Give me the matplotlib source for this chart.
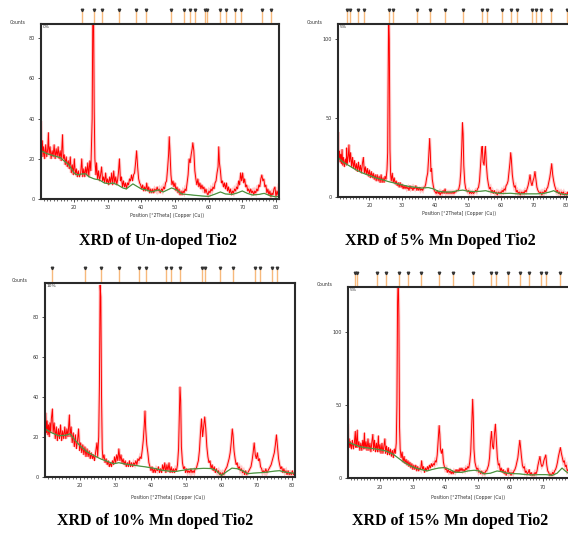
import matplotlib
matplotlib.use("Agg")
import matplotlib.pyplot as plt
from matplotlib.ticker import MultipleLocator

W, H, DPI = 568, 533, 100

# ---------------- data ----------------
captions = ["XRD of Un-doped Tio2", "XRD of 5% Mn Doped Tio2",
            "XRD of 10% Mn doped Tio2", "XRD of 15% Mn doped Tio2"]
corner_labels = ["0%", "5%", "10%", "5%"]
x_ticks = [20, 30, 40, 50, 60, 70, 80]
x_ticks_p4 = [20, 30, 40, 50, 60, 70]
y_ticks_p1 = [0, 20, 40, 60, 80]
y_ticks_p2 = [0, 50, 100]
y_ticks_p3 = [0, 20, 40, 60, 80]
y_ticks_p4 = [0, 50, 100]

undoped_trace = [
    (10.2, 38), (10.4, 24), (10.6, 29), (10.8, 21), (11.0, 26), (11.3, 20), (11.6, 27), (11.9, 21),
    (12.2, 25), (12.4, 33), (12.6, 22), (12.9, 26), (13.2, 20), (13.5, 24), (13.8, 21), (14.1, 27),
    (14.4, 20), (14.7, 25), (15.0, 21), (15.3, 26), (15.6, 20), (15.9, 24), (16.2, 19), (16.6, 32),
    (16.8, 20), (17.1, 22), (17.4, 17), (17.7, 21), (18.0, 16), (18.3, 19), (18.6, 15), (18.9, 21),
    (19.2, 13), (19.5, 17), (19.8, 12), (20.1, 20), (20.4, 12), (20.7, 15), (21.0, 11), (21.3, 14),
    (21.6, 11), (22.0, 13), (22.3, 20), (22.6, 11), (22.9, 15), (23.2, 11), (23.5, 16), (23.8, 12),
    (24.1, 18), (24.4, 11), (24.7, 19), (25.0, 14), (25.2, 28), (25.4, 40), (25.6, 95), (25.8, 95),
    (26.0, 45), (26.2, 20), (26.5, 12), (26.7, 18), (27.0, 10), (27.3, 14), (27.6, 9), (27.9, 12),
    (28.2, 16), (28.5, 9), (28.8, 11), (29.1, 8), (29.4, 13), (29.7, 8), (30.0, 10), (30.3, 7),
    (30.6, 11), (30.9, 8), (31.2, 13), (31.5, 7), (31.8, 14), (32.1, 8), (32.4, 11), (32.7, 7),
    (33.0, 10), (33.2, 13), (33.5, 20), (33.8, 9), (34.1, 11), (34.4, 6), (34.7, 9), (35.0, 6),
    (35.3, 8), (35.6, 5), (35.9, 8), (36.2, 7), (36.5, 10), (36.8, 9), (37.1, 12), (37.4, 9),
    (37.7, 12), (38.0, 13), (38.3, 18), (38.6, 24), (38.9, 16), (39.2, 10), (39.5, 8), (39.8, 7),
    (40.1, 5), (40.4, 7), (40.7, 4), (41.0, 6), (41.3, 4), (41.6, 8), (41.9, 4), (42.2, 6),
    (42.5, 3), (42.8, 5), (43.1, 3), (43.4, 5), (43.7, 3), (44.0, 5), (44.4, 4), (44.7, 6),
    (45.0, 4), (45.3, 5), (45.6, 3), (46.0, 5), (46.3, 4), (46.6, 6), (46.9, 5), (47.2, 8),
    (47.5, 9), (47.8, 15), (48.1, 22), (48.3, 31), (48.5, 24), (48.8, 12), (49.1, 7), (49.4, 9),
    (49.7, 6), (50.0, 8), (50.3, 4), (50.6, 6), (50.9, 3), (51.2, 5), (51.5, 2), (51.8, 4),
    (52.1, 2), (52.4, 4), (52.7, 3), (53.0, 5), (53.3, 4), (53.6, 8), (53.9, 12), (54.2, 20),
    (54.5, 18), (54.8, 22), (55.1, 25), (55.3, 28), (55.6, 24), (55.9, 14), (56.2, 10), (56.5, 7),
    (56.8, 10), (57.1, 6), (57.4, 8), (57.7, 5), (58.0, 7), (58.3, 5), (58.6, 6), (58.9, 3),
    (59.2, 5), (59.5, 3), (59.8, 2), (60.1, 4), (60.4, 3), (60.7, 5), (61.0, 4), (61.3, 6),
    (61.6, 5), (61.9, 8), (62.2, 9), (62.5, 13), (62.8, 16), (63.0, 26), (63.2, 18), (63.5, 14),
    (63.8, 8), (64.1, 9), (64.4, 6), (64.7, 8), (65.0, 5), (65.3, 8), (65.6, 4), (65.9, 6),
    (66.2, 3), (66.5, 5), (66.8, 2), (67.1, 4), (67.4, 3), (67.7, 5), (68.0, 4), (68.3, 6),
    (68.6, 5), (68.9, 9), (69.2, 7), (69.5, 13), (69.8, 9), (70.1, 13), (70.4, 8), (70.7, 10),
    (71.0, 6), (71.3, 7), (71.6, 4), (71.9, 5), (72.2, 3), (72.5, 5), (72.8, 3), (73.1, 4),
    (73.4, 2), (73.7, 4), (74.0, 3), (74.3, 5), (74.6, 4), (74.9, 7), (75.2, 6), (75.5, 10),
    (75.8, 12), (76.1, 9), (76.4, 10), (76.7, 6), (77.0, 7), (77.3, 3), (77.6, 5), (77.9, 2),
    (78.2, 4), (78.5, 1), (78.8, 3), (79.1, 2), (79.4, 5), (79.7, 6), (80.0, 1), (80.3, 4),
    (80.6, 2), (80.9, 7)]

mn5_trace = [
    (10.4, 30), (10.5, 41), (10.7, 24), (10.9, 29), (11.1, 22), (11.3, 27), (11.5, 21), (11.7, 30),
    (11.9, 20), (12.1, 25), (12.4, 19), (12.7, 24), (13.0, 20), (13.1, 31), (13.3, 21), (13.6, 26),
    (13.8, 33), (14.0, 22), (14.3, 28), (14.6, 19), (14.9, 25), (15.2, 18), (15.5, 23), (15.8, 17),
    (16.1, 21), (16.4, 16), (16.7, 22), (17.0, 16), (17.3, 20), (17.6, 15), (17.9, 21), (18.2, 25),
    (18.5, 15), (18.8, 19), (19.1, 14), (19.4, 18), (19.7, 13), (20.0, 17), (20.3, 12), (20.6, 16),
    (20.9, 12), (21.2, 15), (21.5, 11), (21.8, 14), (22.1, 10), (22.4, 14), (22.7, 10), (23.0, 13),
    (23.3, 9), (23.6, 14), (23.9, 9), (24.2, 12), (24.5, 9), (24.8, 13), (25.1, 11), (25.4, 17),
    (25.6, 28), (25.8, 90), (25.9, 118), (26.1, 100), (26.3, 30), (26.5, 14), (26.7, 10), (27.0, 15),
    (27.3, 9), (27.6, 12), (27.9, 8), (28.2, 10), (28.5, 7), (28.8, 9), (29.1, 6), (29.4, 9),
    (29.7, 6), (30.0, 8), (30.3, 5), (30.6, 7), (30.9, 5), (31.2, 7), (31.5, 5), (31.8, 6),
    (32.1, 4), (32.4, 7), (32.7, 5), (33.0, 6), (33.3, 4), (33.6, 6), (33.9, 5), (34.2, 7),
    (34.5, 4), (34.8, 6), (35.1, 4), (35.4, 6), (35.7, 4), (36.0, 5), (36.3, 4), (36.6, 6),
    (36.9, 6), (37.2, 8), (37.5, 12), (37.8, 15), (38.1, 25), (38.4, 37), (38.6, 28), (38.8, 16),
    (39.0, 18), (39.2, 11), (39.5, 7), (39.8, 4), (40.1, 3), (40.4, 2), (40.7, 4), (41.0, 2),
    (41.3, 3), (41.6, 1), (41.9, 3), (42.2, 2), (42.5, 4), (42.8, 2), (43.1, 5), (43.4, 2),
    (43.7, 3), (44.0, 2), (44.3, 3), (44.6, 2), (44.9, 3), (45.2, 2), (45.5, 3), (45.8, 2),
    (46.1, 3), (46.4, 3), (46.7, 4), (47.0, 4), (47.3, 5), (47.6, 8), (47.9, 16), (48.2, 32),
    (48.4, 47), (48.6, 40), (48.8, 20), (49.1, 9), (49.4, 5), (49.7, 4), (50.0, 3), (50.3, 4),
    (50.6, 2), (50.9, 3), (51.2, 2), (51.5, 3), (51.8, 2), (52.1, 3), (52.4, 4), (52.7, 3),
    (53.0, 5), (53.3, 6), (53.6, 10), (53.9, 20), (54.2, 29), (54.4, 32), (54.7, 22), (55.0, 20),
    (55.2, 28), (55.4, 32), (55.7, 20), (56.0, 12), (56.3, 8), (56.6, 5), (56.9, 6), (57.2, 3),
    (57.5, 4), (57.8, 2), (58.1, 4), (58.4, 2), (58.7, 3), (59.0, 1), (59.3, 3), (59.6, 2),
    (59.9, 3), (60.2, 2), (60.5, 4), (60.8, 3), (61.1, 5), (61.4, 4), (61.7, 7), (62.0, 8),
    (62.3, 10), (62.6, 16), (62.9, 22), (63.1, 28), (63.3, 24), (63.6, 14), (63.9, 9), (64.2, 6),
    (64.5, 7), (64.8, 3), (65.1, 4), (65.4, 2), (65.7, 3), (66.0, 1), (66.3, 3), (66.6, 2),
    (66.9, 3), (67.2, 2), (67.5, 4), (67.8, 3), (68.1, 5), (68.4, 7), (68.7, 10), (69.0, 14),
    (69.3, 9), (69.6, 7), (69.9, 10), (70.2, 12), (70.5, 16), (70.8, 11), (71.1, 6), (71.4, 4),
    (71.7, 3), (72.0, 2), (72.3, 3), (72.6, 1), (72.9, 3), (73.2, 2), (73.5, 4), (73.8, 3),
    (74.1, 5), (74.4, 6), (74.7, 9), (75.0, 12), (75.3, 16), (75.6, 21), (75.9, 14), (76.2, 10),
    (76.5, 7), (76.8, 5), (77.1, 3), (77.4, 4), (77.7, 2), (78.0, 3), (78.3, 1), (78.6, 3),
    (78.9, 2), (79.2, 3), (79.5, 1), (79.8, 2), (80.1, 1), (80.4, 3), (80.7, 1), (81.0, 2)]

mn10_trace = [
    (10.1, 27), (10.3, 32), (10.5, 22), (10.7, 28), (10.9, 21), (11.1, 26), (11.3, 20), (11.5, 27),
    (11.7, 22), (11.9, 29), (12.2, 34), (12.4, 22), (12.7, 27), (13.0, 19), (13.3, 25), (13.6, 18),
    (13.9, 24), (14.2, 19), (14.5, 26), (14.8, 18), (15.1, 23), (15.4, 19), (15.7, 25), (16.0, 19),
    (16.3, 24), (16.6, 20), (17.0, 31), (17.2, 20), (17.5, 25), (17.8, 17), (18.1, 22), (18.4, 15),
    (18.7, 21), (19.0, 14), (19.3, 18), (19.6, 24), (19.9, 13), (20.2, 17), (20.5, 12), (20.8, 16),
    (21.1, 11), (21.4, 15), (21.7, 10), (22.0, 14), (22.3, 10), (22.6, 13), (22.9, 9), (23.2, 12),
    (23.5, 9), (23.8, 11), (24.1, 8), (24.4, 12), (24.8, 17), (25.0, 10), (25.3, 20), (25.5, 45),
    (25.7, 96), (25.9, 90), (26.1, 40), (26.3, 14), (26.5, 9), (26.8, 11), (27.1, 7), (27.4, 9),
    (27.7, 6), (28.0, 8), (28.3, 5), (28.6, 7), (28.9, 5), (29.2, 8), (29.5, 6), (29.8, 10),
    (30.1, 7), (30.4, 11), (30.7, 8), (31.0, 14), (31.3, 8), (31.6, 11), (31.9, 7), (32.2, 9),
    (32.5, 6), (32.8, 8), (33.1, 5), (33.4, 7), (33.7, 5), (34.0, 8), (34.3, 5), (34.6, 7),
    (34.9, 5), (35.2, 7), (35.5, 6), (35.8, 8), (36.1, 6), (36.4, 9), (36.7, 8), (37.0, 10),
    (37.3, 9), (37.6, 13), (37.9, 18), (38.2, 26), (38.4, 33), (38.6, 24), (38.9, 16), (39.2, 12),
    (39.5, 7), (39.8, 5), (40.1, 3), (40.4, 5), (40.7, 2), (41.0, 4), (41.3, 2), (41.6, 4),
    (41.9, 3), (42.2, 5), (42.5, 2), (42.8, 4), (43.1, 2), (43.4, 6), (43.7, 3), (44.0, 7),
    (44.3, 2), (44.6, 6), (44.9, 3), (45.2, 7), (45.5, 2), (45.8, 5), (46.1, 2), (46.4, 4),
    (46.7, 2), (47.0, 4), (47.3, 3), (47.6, 6), (47.9, 14), (48.1, 30), (48.3, 45), (48.5, 38),
    (48.7, 15), (49.0, 7), (49.3, 4), (49.6, 5), (49.9, 2), (50.2, 4), (50.5, 2), (50.8, 3),
    (51.1, 2), (51.4, 4), (51.7, 2), (52.0, 3), (52.3, 2), (52.6, 4), (52.9, 4), (53.2, 6),
    (53.5, 8), (53.8, 13), (54.1, 22), (54.4, 29), (54.7, 20), (55.0, 25), (55.3, 30), (55.6, 24),
    (55.9, 15), (56.2, 10), (56.5, 7), (56.8, 8), (57.1, 4), (57.4, 6), (57.7, 3), (58.0, 5),
    (58.3, 2), (58.6, 4), (58.9, 2), (59.2, 3), (59.5, 1), (59.8, 2), (60.1, 0.5), (60.4, 2),
    (60.7, 1), (61.0, 3), (61.3, 4), (61.6, 5), (61.9, 7), (62.2, 9), (62.5, 12), (62.8, 17),
    (63.1, 24), (63.3, 21), (63.6, 13), (63.9, 9), (64.2, 6), (64.5, 7), (64.8, 4), (65.1, 5),
    (65.4, 3), (65.7, 4), (66.0, 2), (66.3, 3), (66.6, 1), (66.9, 3), (67.2, 1), (67.5, 2),
    (67.8, 3), (68.1, 4), (68.4, 5), (68.7, 8), (69.0, 12), (69.3, 17), (69.6, 11), (69.9, 9),
    (70.2, 12), (70.5, 8), (70.8, 9), (71.1, 5), (71.4, 4), (71.7, 2), (72.0, 3), (72.3, 2),
    (72.6, 4), (72.9, 2), (73.2, 3), (73.5, 4), (73.8, 5), (74.1, 6), (74.4, 8), (74.7, 10),
    (75.0, 12), (75.3, 16), (75.6, 21), (75.9, 15), (76.2, 9), (76.5, 6), (76.8, 4), (77.1, 5),
    (77.4, 2), (77.7, 4), (78.0, 2), (78.3, 3), (78.6, 1), (78.9, 3), (79.2, 1), (79.5, 2),
    (79.8, 1), (80.1, 3), (80.4, 1), (80.8, 2)]

mn15_trace = [
    (10.1, 36), (10.3, 22), (10.5, 27), (10.7, 21), (10.9, 25), (11.2, 20), (11.5, 26), (11.8, 20),
    (12.1, 24), (12.4, 32), (12.6, 21), (12.8, 26), (13.0, 33), (13.2, 21), (13.5, 25), (13.8, 19),
    (14.1, 24), (14.4, 19), (14.7, 26), (15.0, 20), (15.2, 31), (15.4, 20), (15.7, 25), (16.0, 19),
    (16.3, 27), (16.6, 19), (16.9, 24), (17.2, 18), (17.5, 25), (17.8, 30), (18.0, 19), (18.3, 26),
    (18.6, 18), (18.9, 24), (19.2, 18), (19.5, 29), (19.7, 18), (20.0, 23), (20.3, 17), (20.6, 24),
    (20.9, 17), (21.2, 22), (21.5, 27), (21.7, 17), (22.0, 22), (22.3, 16), (22.6, 21), (22.9, 16),
    (23.2, 20), (23.5, 15), (23.8, 19), (24.1, 14), (24.4, 20), (24.7, 17), (25.0, 24), (25.2, 50),
    (25.4, 120), (25.6, 140), (25.8, 110), (26.0, 35), (26.2, 20), (26.5, 14), (26.8, 18), (27.1, 11),
    (27.4, 15), (27.7, 10), (28.0, 13), (28.3, 9), (28.6, 12), (28.9, 8), (29.2, 11), (29.5, 7),
    (29.8, 10), (30.1, 6), (30.4, 9), (30.7, 6), (31.0, 9), (31.3, 5), (31.6, 8), (31.9, 5),
    (32.2, 7), (32.5, 6), (32.8, 12), (33.1, 6), (33.4, 8), (33.7, 4), (34.0, 7), (34.3, 5),
    (34.6, 8), (34.9, 6), (35.2, 9), (35.5, 7), (35.8, 10), (36.1, 8), (36.4, 10), (36.7, 9),
    (37.0, 12), (37.3, 11), (37.6, 16), (37.9, 26), (38.2, 36), (38.4, 30), (38.6, 20), (38.9, 17),
    (39.2, 20), (39.5, 11), (39.8, 8), (40.1, 6), (40.4, 7), (40.7, 4), (41.0, 6), (41.3, 4),
    (41.6, 5), (41.9, 3), (42.2, 5), (42.5, 3), (42.8, 5), (43.1, 4), (43.4, 6), (43.7, 4),
    (44.0, 6), (44.3, 4), (44.6, 7), (44.9, 5), (45.2, 7), (45.5, 5), (45.8, 6), (46.1, 5),
    (46.4, 7), (46.7, 6), (47.0, 8), (47.3, 7), (47.6, 11), (47.9, 18), (48.2, 35), (48.5, 54),
    (48.7, 42), (48.9, 20), (49.2, 11), (49.5, 8), (49.8, 6), (50.1, 7), (50.4, 4), (50.7, 5),
    (51.0, 3), (51.3, 5), (51.6, 3), (51.9, 4), (52.2, 3), (52.5, 5), (52.8, 5), (53.1, 7),
    (53.4, 9), (53.7, 14), (54.0, 25), (54.3, 32), (54.6, 22), (54.9, 20), (55.2, 30), (55.5, 37),
    (55.8, 25), (56.1, 14), (56.4, 9), (56.7, 10), (57.0, 5), (57.3, 7), (57.6, 4), (57.9, 6),
    (58.2, 3), (58.5, 5), (58.8, 2), (59.1, 4), (59.4, 7), (59.7, 3), (60.0, 4), (60.3, 2),
    (60.6, 4), (60.9, 3), (61.2, 5), (61.5, 6), (61.8, 8), (62.1, 11), (62.4, 14), (62.7, 20),
    (63.0, 26), (63.2, 22), (63.5, 15), (63.8, 9), (64.1, 7), (64.4, 8), (64.7, 4), (65.0, 5),
    (65.3, 3), (65.6, 4), (65.9, 6), (66.2, 2), (66.5, 4), (66.8, 2), (67.1, 3), (67.4, 2),
    (67.7, 4), (68.0, 3), (68.3, 5), (68.6, 9), (68.9, 12), (69.2, 15), (69.5, 10), (69.8, 8),
    (70.1, 9), (70.4, 12), (70.7, 14), (71.0, 16), (71.3, 9), (71.6, 5), (71.9, 4), (72.2, 2),
    (72.5, 3), (72.8, 2), (73.1, 4), (73.4, 3), (73.7, 5), (74.0, 6), (74.3, 8), (74.6, 11),
    (74.9, 15), (75.2, 18), (75.5, 21), (75.8, 17), (76.1, 14), (76.4, 11), (76.7, 12), (77.0, 8),
    (77.3, 9), (77.6, 5), (77.9, 6), (78.2, 3), (78.5, 4), (78.8, 2), (79.1, 3), (79.4, 2),
    (79.7, 3), (80.0, 2), (80.5, 3), (81.0, 2)]

undoped_background = [
    (10.2, 24), (12, 22.5), (14, 21.5), (16, 20.5), (17, 19), (18.5, 17), (20, 13), (21, 12),
    (22.5, 12.5), (23.5, 12.5), (24.5, 11), (26, 10), (27.5, 9.5), (29, 8), (30.5, 7.5), (31.5, 8),
    (33, 7), (34.5, 5.5), (35.5, 5), (37.5, 7.5), (38.5, 6.5), (40, 5), (41.5, 4.5), (43, 3.5),
    (45, 4.5), (46.5, 3.5), (49, 5.5), (50.5, 4.5), (52, 2.5), (55, 2), (58, 1.5), (60, 1.3),
    (62, 2.5), (63.5, 3.5), (65, 2.5), (67, 2.3), (68.5, 3), (70, 4), (71.5, 2.8), (73, 2),
    (75, 2.3), (76.5, 2.8), (78, 1.8), (80, 1), (81, 1.5)]

mn5_background = [
    (10.4, 25), (12, 22), (14, 19.5), (16, 17), (18, 15), (20, 13.5), (22, 12), (24, 10.8),
    (26, 9.5), (28, 8.5), (30, 7.5), (32, 6.5), (34, 6), (36, 5.5), (38, 5.8), (39.5, 5),
    (41, 3.5), (43, 3), (45, 3), (47, 3.8), (48.5, 4.2), (50, 3.5), (52, 3.2), (54, 3.5),
    (55.5, 3.8), (57, 3), (59, 2.2), (61, 2), (63, 2.2), (65, 1.8), (68, 1.8), (71, 1.8),
    (73, 2), (75, 3), (76.2, 3.8), (77.5, 2.5), (79, 1.5), (81, 1.2)]

mn10_background = [
    (10.1, 24), (12, 22), (14, 20.5), (16, 20.8), (17.2, 21.5), (18.5, 18.5), (20, 15.5), (22, 12.5),
    (24, 10.5), (26, 8.8), (28, 7.5), (29.5, 6.5), (31, 7), (33, 6.3), (35, 5.8), (37, 5.3),
    (39, 4.8), (41, 4.2), (43, 3.3), (45, 2.8), (47, 2.6), (49, 3.2), (51, 3.8), (53, 4),
    (55, 4.2), (57, 4.1), (58.5, 3.2), (60, 0.6), (61.5, 2.5), (63, 4.3), (64.5, 4), (66, 3),
    (67.5, 1.5), (69, 1.8), (71, 2), (73, 2.3), (75, 2.8), (76.5, 3), (78, 2.3), (80, 1.8),
    (81, 1.8)]

mn15_background = [
    (10.06, 25), (12, 23), (14, 21.5), (16, 20.8), (18, 20.2), (20, 19.5), (22, 18.5), (24, 16.5),
    (25.5, 14), (27, 11.5), (29, 8.8), (31, 7), (33, 5.8), (34.5, 5), (36, 6), (38, 7),
    (40, 7.3), (41.5, 6), (43, 4.2), (45, 4), (47, 5), (49, 5.5), (50.5, 5), (52, 3),
    (54, 3.5), (56, 5), (57.5, 4.5), (59, 3.5), (61, 3.2), (63, 3), (65, 2.5), (67, 2.3),
    (69, 2.5), (71, 2.5), (73, 2), (74.5, 3.5), (76, 7), (77, 5), (78.5, 2.5), (81, 2)]

undoped_ref_lines = [22.3, 25.8, 28.3, 33.4, 38.5, 41.3, 48.8, 52.7, 54.5, 55.8, 58.8, 59.5,
                     63.3, 65.2, 67.8, 69.6, 75.9, 78.4]
mn5_ref_lines = [13.1, 14.2, 16.6, 18.4, 25.9, 27.1, 34.5, 38.5, 43.1, 48.5, 54.4, 55.8,
                 60.5, 63.2, 64.9, 69.5, 70.8, 72.4, 75.5, 80.2]
mn10_ref_lines = [12.2, 21.3, 25.9, 31.0, 36.8, 38.6, 44.4, 45.7, 48.4, 54.6, 55.5, 59.6,
                  63.3, 69.5, 70.9, 74.3, 75.7]
mn15_ref_lines = [12.3, 13.0, 19.2, 21.8, 25.8, 28.7, 32.7, 38.2, 42.6, 48.6, 54.2, 55.7,
                  59.4, 63.1, 65.9, 69.4, 71.1, 75.3, 79.0]

# ---------------- layout (pixels) ----------------
panels = [
    dict(box=(41, 24, 279, 199), xlim=(10.2, 80.9), ylim=(0, 87), yt=y_ticks_p1, xt=x_ticks,
         trace=undoped_trace, bg=undoped_background, refs=undoped_ref_lines, refh=15,
         counts=(18, 22), xlab=(167, 216), cap=(158, 241)),
    dict(box=(337.7, 24, 569.4, 196.7), xlim=(10.37, 81), ylim=(0, 109.7), yt=y_ticks_p2, xt=x_ticks,
         trace=mn5_trace, bg=mn5_background, refs=mn5_ref_lines, refh=15,
         counts=(315, 22), xlab=(459, 214), cap=(440, 241)),
    dict(box=(45, 283.3, 295, 476.7), xlim=(10.1, 80.85), ylim=(0, 96.9), yt=y_ticks_p3, xt=x_ticks,
         trace=mn10_trace, bg=mn10_background, refs=mn10_ref_lines, refh=16.5,
         counts=(20, 281), xlab=(168, 497), cap=(155, 521)),
    dict(box=(347.7, 287.3, 578.3, 478.3), xlim=(10.06, 81), ylim=(0, 130.3), yt=y_ticks_p4, xt=x_ticks_p4,
         trace=mn15_trace, bg=mn15_background, refs=mn15_ref_lines, refh=15.5,
         counts=(325, 284), xlab=(468, 498), cap=(450, 521)),
]

fig = plt.figure(figsize=(W / DPI, H / DPI), dpi=DPI)
fig.patch.set_facecolor("white")

def fx(px):
    return px / W

def fy(py):
    return 1 - py / H

for i, p in enumerate(panels):
    l, t, r, b = p["box"]
    ax = fig.add_axes([l / W, 1 - b / H, (r - l) / W, (b - t) / H])
    ax.set_xlim(*p["xlim"])
    ax.set_ylim(*p["ylim"])
    tx = [q[0] for q in p["trace"]]
    ty = [q[1] for q in p["trace"]]
    bx = [q[0] for q in p["bg"]]
    by = [q[1] for q in p["bg"]]
    ax.plot(tx, ty, color="#ff5050", lw=2.2, alpha=0.3, solid_joinstyle="miter")
    ax.plot(tx, ty, color="#ff0000", lw=0.7)
    ax.plot(bx, by, color="#4caf50", lw=0.9)
    ax.plot(bx, by, color="#5a3a1a", lw=0.3, alpha=0.6)

    for s in ax.spines.values():
        s.set_linewidth(1.5)
        s.set_color("#2a2a2a")
    ax.set_xticks(p["xt"])
    ax.xaxis.set_minor_locator(MultipleLocator(1))
    ax.set_yticks(p["yt"])
    ax.tick_params(axis="both", which="major", direction="out", length=2, width=0.6,
                   labelsize=3.5, pad=2.5, colors="#333333")
    ax.tick_params(axis="x", which="minor", direction="out", length=1.5, width=0.5,
                   colors="#333333")

    # reference pattern markers above the box
    ah = b - t
    top = 1 + p["refh"] / ah
    trans = ax.get_xaxis_transform()
    ax.vlines(p["refs"], 1.0, top, transform=trans, colors="#f7b97c", lw=1.0, clip_on=False)
    ax.plot(p["refs"], [top - 1.5 / ah] * len(p["refs"]), linestyle="none", marker="v",
            markersize=1.8, color="#333333", transform=trans, clip_on=False)

    ax.text(0.008, 0.995, corner_labels[i], transform=ax.transAxes, fontsize=3.2,
            ha="left", va="top", color="#333333")
    fig.text(fx(p["counts"][0]), fy(p["counts"][1]), "Counts", fontsize=3.3,
             ha="center", va="center", color="#333333")
    fig.text(fx(p["xlab"][0]), fy(p["xlab"][1]), "Position [°2Theta] (Copper (Cu))",
             fontsize=3.3, ha="center", va="center", color="#333333")
    fig.text(fx(p["cap"][0]), fy(p["cap"][1]), captions[i], fontsize=11.5,
             fontweight="bold", family="Liberation Serif", ha="center", va="center",
             color="black")

fig.savefig("out.png", dpi=DPI, facecolor="white")
